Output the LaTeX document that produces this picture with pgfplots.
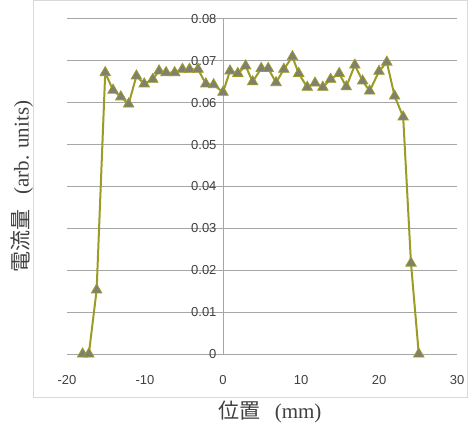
\documentclass[border=0pt]{standalone}
\usepackage{pgfplots}
\pgfplotsset{compat=1.18}
\usepackage{fontspec}
\setmainfont{Liberation Sans}
\newfontfamily\cjk{Noto Sans CJK JP}
\newfontfamily\serif{Liberation Serif}
\definecolor{lineol}{HTML}{9B9B26}
\definecolor{markgr}{HTML}{7F7F72}
\definecolor{gridgr}{HTML}{A6A6A6}
\definecolor{framegr}{HTML}{D9D9D9}
\definecolor{ticktxt}{HTML}{404040}

\begin{document}
\begin{tikzpicture}
\path[use as bounding box] (-67pt,-80pt) rectangle (403pt,354pt);
\draw[framegr, line width=0.8pt] (-34pt,-43pt) rectangle (400pt,354pt);
\begin{axis}[
  at={(0pt,0pt)}, anchor=south west,
  scale only axis, width=390pt, height=335pt,
  xmin=-20, xmax=30, ymin=0, ymax=0.08,
  xtick={-20,-10,0,10,20,30},
  ytick={0,0.01,0.02,0.03,0.04,0.05,0.06,0.07,0.08},
  axis x line*=bottom, axis y line*=left,
  x axis line style={gridgr, line width=1pt},
  y axis line style={draw=none},
  ymajorgrids, grid style={gridgr, line width=1pt},
  extra x ticks={0}, extra x tick labels={},
  extra x tick style={grid=major},
  major tick length=0pt,
  tick label style={font=\fontsize{13}{15}\selectfont, text=ticktxt},
  /pgf/number format/assume math mode=true,
  yticklabel style={/pgf/number format/fixed, /pgf/number format/precision=2, xshift=153pt},
  xticklabel style={yshift=-18pt},
  scaled y ticks=false,
  xlabel={{\cjk 位置}\hspace{0.7em}{\serif (mm)}},
  ylabel={{\cjk 電流量}\hspace{0.7em}{\serif (arb. units)}},
  label style={font=\fontsize{21}{24}\selectfont, text=black!75},
  xlabel style={at={(rel axis cs:0.52,0)}, anchor=center, yshift=-58pt},
  ylabel style={at={(rel axis cs:0,0.5)}, anchor=center, yshift=45pt},
  clip=false,
]
\addplot[color=lineol, line width=2pt, mark=triangle*, mark size=6pt,
  mark options={fill=markgr, draw=lineol, line width=0.8pt}]
  coordinates {
  (-18.0,0) (-17.2,0) (-16.2,0.0153) (-15.1,0.0672) (-14.1,0.0630)
  (-13.1,0.0614) (-12.1,0.0597) (-11.1,0.0664) (-10.1,0.0645) (-9.0,0.0656)
  (-8.2,0.0676) (-7.3,0.0672) (-6.2,0.0672) (-5.2,0.0680) (-4.3,0.0680)
  (-3.2,0.0680) (-2.2,0.0645) (-1.2,0.0643) (0.0,0.0625) (0.9,0.0676)
  (1.9,0.0670) (2.9,0.0688) (3.8,0.0650) (4.9,0.0682) (5.8,0.0682)
  (6.8,0.0648) (7.8,0.0680) (8.9,0.0710) (9.7,0.0670) (10.8,0.0637)
  (11.8,0.0647) (12.8,0.0637) (13.8,0.0656) (14.9,0.0670) (15.8,0.0638)
  (16.9,0.0690) (17.9,0.0652) (18.8,0.0628) (20.0,0.0675) (21.0,0.0697)
  (22.0,0.0616) (23.1,0.0566) (24.1,0.0217) (25.1,0)
  };
\end{axis}
\end{tikzpicture}
\end{document}
